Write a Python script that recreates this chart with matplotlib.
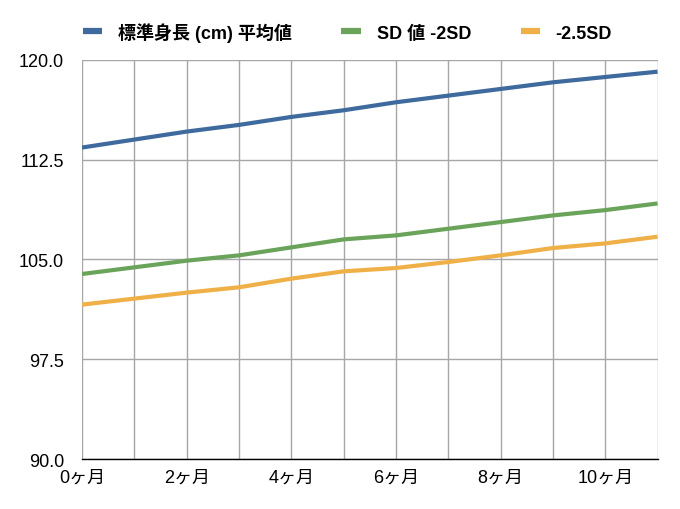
#! /usr/bin/env python3

import numpy as np
import matplotlib
matplotlib.use("Agg")
import matplotlib.pyplot as plt

plt.rcParams['font.family'] = ['Liberation Sans', 'Noto Sans CJK JP', 'DejaVu Sans']

# data
months = list(range(12))
month_labels = [f"{m}ヶ月" if m % 2 == 0 else "" for m in months]
mean_height = [113.4, 114.0, 114.6, 115.1, 115.7, 116.2, 116.8, 117.3, 117.8, 118.3, 118.7, 119.1]
sd_minus2 = [103.9, 104.4, 104.9, 105.3, 105.9, 106.5, 106.8, 107.3, 107.8, 108.3, 108.7, 109.2]
sd_minus25 = [101.6, 102.05, 102.5, 102.9, 103.55, 104.1, 104.35, 104.8, 105.3, 105.85, 106.2, 106.7]
series_names = ["標準身長 (cm) 平均値", "SD 値 -2SD", "-2.5SD"]
colors = ["#3e6a9d", "#6aa45a", "#f0b048"]
yticks = [90.0, 97.5, 105.0, 112.5, 120.0]

fig = plt.figure(figsize=(6.8, 5.1), dpi=100)
ax = fig.add_axes([0.1206, 0.098, 0.8464, 0.783])

for vals, name, c in zip([mean_height, sd_minus2, sd_minus25], series_names, colors):
    ax.plot(months, vals, color=c, lw=3.0, label=name, solid_capstyle='butt')

ax.set_xlim(0, 11)
ax.set_ylim(90, 120)
ax.set_xticks(months)
ax.set_xticklabels(month_labels, fontsize=13)
ax.set_yticks(yticks)
ax.set_yticklabels([f"{v:.1f}" for v in yticks], fontsize=13)
ax.tick_params(axis='x', length=0, pad=7)
ax.tick_params(axis='y', length=0, pad=13)
ax.grid(True, color="#a6a6a6", lw=1)
for s in ["top", "right", "left"]:
    ax.spines[s].set_visible(False)
ax.spines["bottom"].set_color("black")
ax.spines["bottom"].set_linewidth(1)
ax.set_axisbelow(True)

leg = ax.legend(loc="center", bbox_to_anchor=(0.461, 1.07), ncol=3, frameon=False,
                handlelength=1.1, handletextpad=0.85, columnspacing=2.75,
                borderaxespad=0, borderpad=0,
                prop={'weight': 'bold', 'size': 13})
for h in leg.legend_handles:
    h.set_linewidth(4.5)

fig.savefig("out.png", dpi=100)
